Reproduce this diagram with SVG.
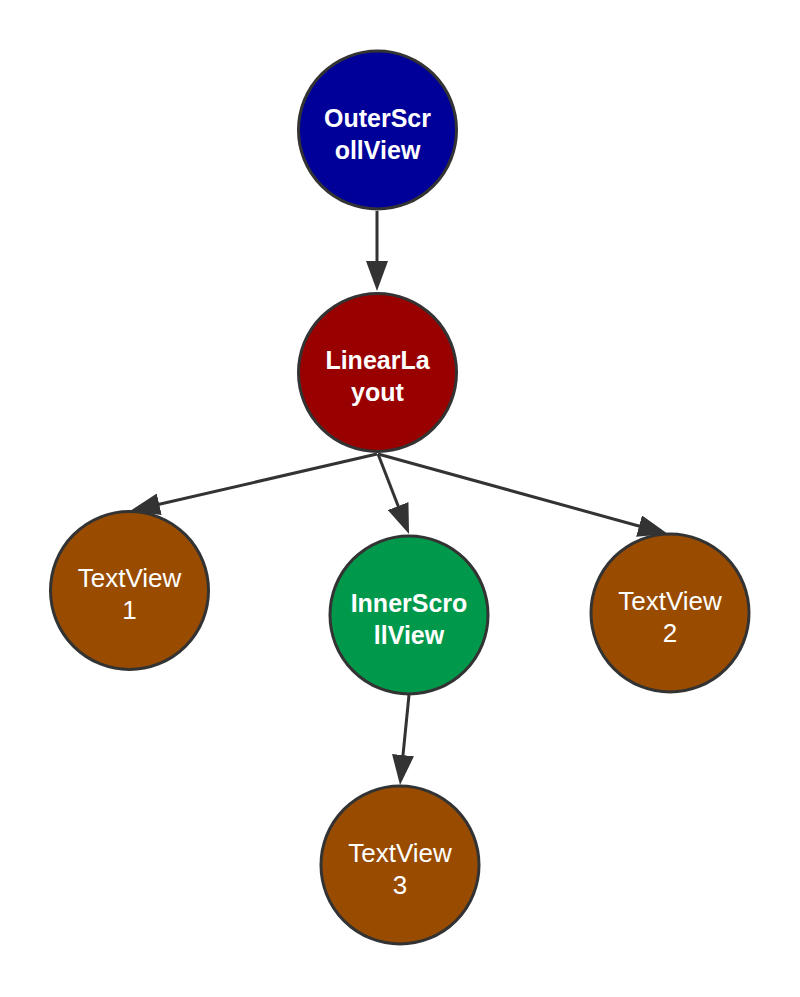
<svg xmlns="http://www.w3.org/2000/svg" width="800" height="997" viewBox="0 0 800 997">
  <style>
    .node { stroke: #333333; stroke-width: 3; }
    .edge { stroke: #333333; stroke-width: 3; fill: none; marker-end: url(#arrow); }
    .lbl { fill: #ffffff; font-family: "Liberation Sans", Arial, sans-serif; text-anchor: middle; }
    .b { font-weight: bold; font-size: 25px; }
    .r { font-size: 26px; }
  </style>
  <defs>
    <marker id="arrow" markerUnits="userSpaceOnUse" markerWidth="30" markerHeight="22" viewBox="0 0 30 22" refX="10" refY="11" orient="auto">
      <path d="M0,0 L30,11 L0,22 z" fill="#333333"/>
    </marker>
  </defs>
  <rect width="800" height="997" fill="#ffffff"/>
  <g id="connectors">
    <line class="edge" x1="377" y1="211" x2="377" y2="271"/>
    <line class="edge" x1="377" y1="454" x2="149.5" y2="506.5"/>
    <line class="edge" x1="378" y1="454" x2="401.8" y2="515.4"/>
    <line class="edge" x1="378" y1="454" x2="648.7" y2="528.7"/>
    <line class="edge" x1="409" y1="695" x2="402" y2="765.1"/>
  </g>
  <g id="OuterScrollView">
    <circle class="node" cx="377.5" cy="130" r="79" fill="#000099"/>
    <text class="lbl b" x="377.5" y="126.5">OuterScr</text>
    <text class="lbl b" x="377.5" y="158.5">ollView</text>
  </g>
  <g id="LinearLayout">
    <circle class="node" cx="377.5" cy="372.5" r="79" fill="#990000"/>
    <text class="lbl b" x="377.5" y="369">LinearLa</text>
    <text class="lbl b" x="377.5" y="401">yout</text>
  </g>
  <g id="TextView1">
    <circle class="node" cx="129.5" cy="590.5" r="79" fill="#994c00"/>
    <text class="lbl r" x="129.5" y="587">TextView</text>
    <text class="lbl r" x="129.5" y="619">1</text>
  </g>
  <g id="InnerScrollView">
    <circle class="node" cx="409" cy="615" r="79" fill="#00994c"/>
    <text class="lbl b" x="409" y="611.5">InnerScro</text>
    <text class="lbl b" x="409" y="643.5">llView</text>
  </g>
  <g id="TextView2">
    <circle class="node" cx="670" cy="613" r="79" fill="#994c00"/>
    <text class="lbl r" x="670" y="609.5">TextView</text>
    <text class="lbl r" x="670" y="641.5">2</text>
  </g>
  <g id="TextView3">
    <circle class="node" cx="400" cy="865" r="79" fill="#994c00"/>
    <text class="lbl r" x="400" y="861.5">TextView</text>
    <text class="lbl r" x="400" y="893.5">3</text>
  </g>
</svg>
